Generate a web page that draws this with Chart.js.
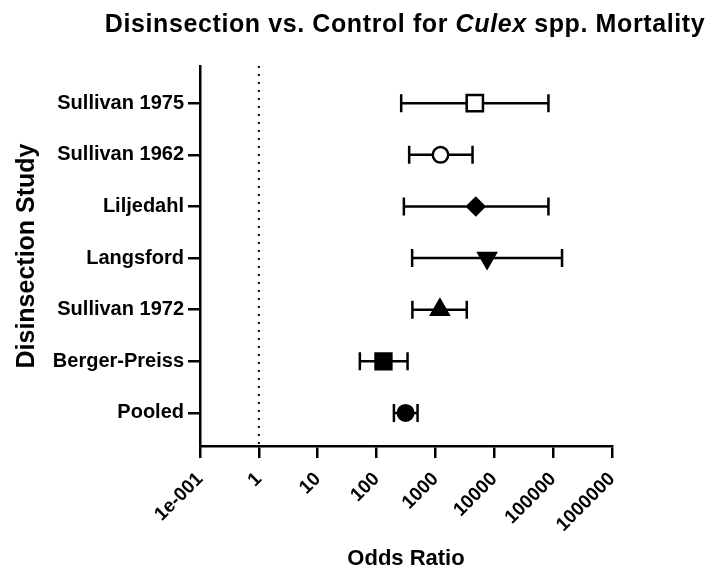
<!DOCTYPE html>
<html>
<head>
<meta charset="utf-8">
<script src="https://cdn.jsdelivr.net/npm/chart.js@4.4.1/dist/chart.umd.min.js"></script>
<style>
  body { margin: 0; background: #fff; overflow: hidden; }
  #wrap { position: relative; width: 711px; height: 572px; }
  #title {
    position: absolute; left: 0; top: 11px; width: 810px;
    text-align: center; white-space: nowrap; color: #000;
    font: bold 25px "Liberation Sans", Arial, sans-serif;
    line-height: 24px; letter-spacing: 0.6px;
  }
  canvas { display: block; }
</style>
</head>
<body>
<div id="wrap">
  <div id="title">Disinsection vs. Control for <i>Culex</i> spp. Mortality</div>
  <canvas id="forest" width="711" height="572"></canvas>
</div>
<script>
// ---- data (top to bottom as in the plot) ----
const studies = ["Sullivan 1975", "Sullivan 1962", "Liljedahl", "Langsford", "Sullivan 1972", "Berger-Preiss", "Pooled"];
const oddsRatio = [4670, 1220, 4850, 7550, 1190, 131, 311];
const ciLow = [262, 358, 291, 402, 406, 52, 197];
const ciHigh = [83200, 4270, 83200, 141600, 3410, 336, 497];
const xTicks = [0.1, 1, 10, 100, 1000, 10000, 100000, 1000000];
const referenceOR = 1;

// marker look per study
const markerStyle = ["rect", "circle", "rectRot", "triangle", "triangle", "rect", "circle"];
const markerRotation = [0, 0, 0, 180, 0, 0, 0];
const markerRadius = [11.5, 7.8, 8.5, 10, 10, 11.2, 7.8];
const markerFill = ["#fff", "#fff", "#000", "#000", "#000", "#000", "#000"];

const FONT = "'Liberation Sans', Arial, sans-serif";
const n = studies.length;
const rowOf = (i) => n - i; // Sullivan 1975 on top

// error bars + dotted line at OR = 1
const errorBars = {
  id: "errorBars",
  beforeDatasetsDraw(chart) {
    const { ctx, chartArea, scales: { x, y } } = chart;
    ctx.save();
    ctx.strokeStyle = "#000";

    const xr = x.getPixelForValue(referenceOR);
    ctx.lineWidth = 2;
    ctx.setLineDash([2, 6]);
    ctx.beginPath();
    ctx.moveTo(xr, chartArea.top);
    ctx.lineTo(xr, chartArea.bottom);
    ctx.stroke();
    ctx.setLineDash([]);

    const cap = 9;
    ctx.lineWidth = 2.5;
    studies.forEach((s, i) => {
      const py = y.getPixelForValue(rowOf(i));
      const x1 = x.getPixelForValue(ciLow[i]);
      const x2 = x.getPixelForValue(ciHigh[i]);
      ctx.beginPath();
      ctx.moveTo(x1, py); ctx.lineTo(x2, py);
      ctx.moveTo(x1, py - cap); ctx.lineTo(x1, py + cap);
      ctx.moveTo(x2, py - cap); ctx.lineTo(x2, py + cap);
      ctx.stroke();
    });
    ctx.restore();
  },
};

new Chart(document.getElementById("forest"), {
  type: "scatter",
  data: {
    datasets: [
      {
        data: studies.map((s, i) => ({ x: oddsRatio[i], y: rowOf(i) })),
        pointStyle: markerStyle,
        rotation: markerRotation,
        radius: markerRadius,
        hoverRadius: markerRadius,
        backgroundColor: markerFill,
        borderColor: "#000",
        borderWidth: 2.5,
      },
    ],
  },
  options: {
    responsive: false,
    animation: false,
    events: [],
    layout: { padding: { top: 66, right: 99, left: 0, bottom: 0 } },
    plugins: {
      legend: { display: false },
      tooltip: { enabled: false },
    },
    scales: {
      x: {
        type: "logarithmic",
        min: 0.1,
        max: 1000000,
        afterBuildTicks: (scale) => {
          scale.ticks = xTicks.map((v) => ({ value: v }));
        },
        afterFit: (scale) => { scale.height = 126; },
        border: { display: true, color: "#000", width: 2.5 },
        grid: { drawOnChartArea: false, color: "#000", lineWidth: 2.5, tickLength: 12 },
        ticks: {
          autoSkip: false,
          maxRotation: 45,
          minRotation: 45,
          padding: 10,
          color: "#000",
          font: { family: FONT, size: 19, weight: "bold" },
          callback: (v) => (v === 0.1 ? "1e-001" : String(v)),
        },
        title: {
          display: true,
          text: "Odds Ratio",
          color: "#000",
          padding: { top: 0, bottom: 0 },
          font: { family: FONT, size: 22, weight: "bold" },
        },
      },
      y: {
        type: "linear",
        min: 0.36,
        max: 7.72,
        afterBuildTicks: (scale) => {
          scale.ticks = studies.map((s, i) => ({ value: rowOf(i) }));
        },
        afterFit: (scale) => { scale.width = 200; },
        border: { display: true, color: "#000", width: 2.5 },
        grid: { drawOnChartArea: false, color: "#000", lineWidth: 2.5, tickLength: 12 },
        ticks: {
          padding: 4,
          color: "#000",
          font: { family: FONT, size: 20, weight: "bold" },
          callback: (v) => studies[n - v],
        },
        title: {
          display: true,
          text: "Disinsection Study",
          color: "#000",
          padding: { top: 12, bottom: 0 },
          font: { family: FONT, size: 25, weight: "bold" },
        },
      },
    },
  },
  plugins: [errorBars],
});
</script>
</body>
</html>
